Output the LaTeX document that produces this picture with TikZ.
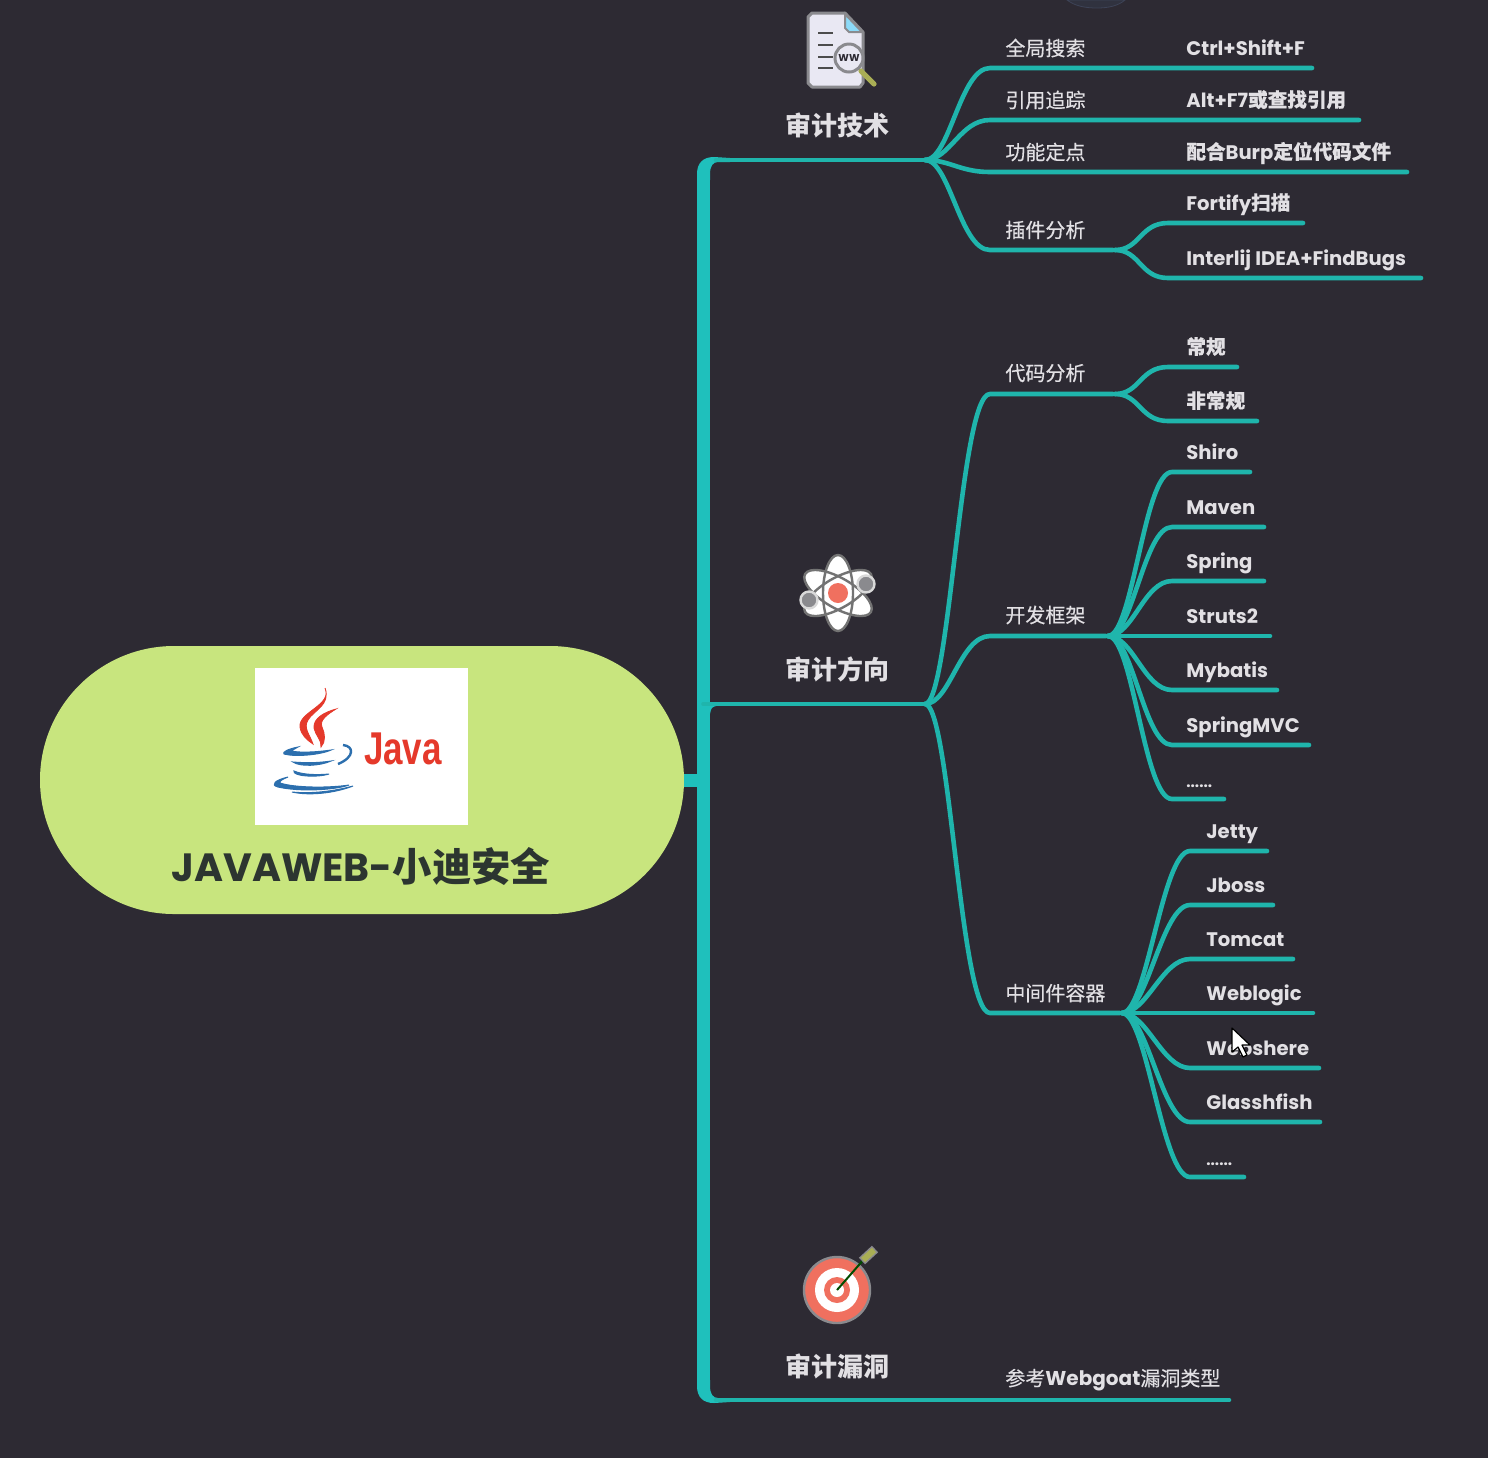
\documentclass[tikz,border=0pt]{standalone}
\usepackage{fontspec}
\setmainfont{Poppins}
\newfontfamily\cjk{Noto Sans CJK SC}
\newfontfamily\cjkmed[FakeBold=0.35]{Noto Sans CJK SC}
\newfontfamily\logofont{Liberation Sans}
\usetikzlibrary{shapes.misc}
\definecolor{bgdark}{HTML}{2D2A33}
\definecolor{slatefill}{HTML}{30323F}
\definecolor{slateedge}{HTML}{3D4357}
\definecolor{rootgreen}{HTML}{C8E57E}
\definecolor{trunkteal}{HTML}{1FC0BC}
\definecolor{lineteal}{HTML}{1FB5AC}
\definecolor{labelgrey}{HTML}{E2E0E4}
\definecolor{titledark}{HTML}{2C3530}
\definecolor{javared}{HTML}{E5392B}
\definecolor{javablue}{HTML}{2C6FAE}
\definecolor{iconred}{HTML}{F0705F}
\definecolor{icongrey}{HTML}{8A8A8E}
\definecolor{docpaper}{HTML}{E9E8F3}
\definecolor{olive}{HTML}{A9AE55}
\newcommand{\zh}[1]{{\cjkmed #1}}
\tikzset{
  x=0.5pt, y=-0.5pt,
  trunk/.style={line width=6.5pt, color=trunkteal},
  branch/.style={line width=2.3pt, color=lineteal, line cap=round, shorten >=1pt},
  topic/.style={font=\cjk\bfseries\fontsize{13}{15}\selectfont, text=labelgrey, inner sep=0pt},
  sublabel/.style={font=\cjkmed\fontsize{10}{12}\selectfont, text=labelgrey, inner sep=0pt, anchor=west},
  leaf/.style={font=\bfseries\fontsize{9.8}{12}\selectfont, text=labelgrey, inner sep=0pt, anchor=base west},
  dotsleaf/.style={font=\bfseries\fontsize{7.6}{8}\selectfont, text=labelgrey, inner sep=0pt, anchor=base west},
}
\begin{document}
\begin{tikzpicture}
\useasboundingbox (0,0) rectangle (1488,1458);
\fill[bgdark] (0,0) rectangle (1488,1458);
% stray shape at the top edge
\fill[slatefill, draw=slateedge] (1067,0) .. controls (1075,6) and (1085,8) .. (1097,8) .. controls (1108,8) and (1118,6) .. (1125,0) -- cycle;

% root
\node[rounded rectangle, fill=rootgreen, minimum width=322pt, minimum height=134pt, inner sep=0pt] (root) at (362,780) {};
\node[fill=white, minimum width=106.5pt, minimum height=78.5pt, inner sep=0pt] (logo) at (361.5,746.5) {};
\node[font=\bfseries\fontsize{19.7}{22}\selectfont, text=titledark, inner sep=0pt] (title) at (361,866) {JAVAWEB-{\cjk 小迪安全}};
\begin{scope}[javared]
\filldraw[line width=0.4pt] (325,688) .. controls (333,705) and (298,712) .. (300,727) .. controls (301,735) and (307,740) .. (313,744) .. controls (310,735) and (303,728) .. (308,720) .. controls (314,710) and (331,705) .. (325,688) -- cycle;
\filldraw[line width=0.4pt] (336,709) .. controls (325,712) and (313,718) .. (314,728) .. controls (315,735) and (322,740) .. (321,747) .. controls (326,742) and (325,733) .. (322,727) .. controls (319,720) and (328,714) .. (336,709) -- cycle;
\end{scope}
\begin{scope}[javablue, line width=0.5pt]
\filldraw (298,747) .. controls (288,749) and (282,752) .. (284,754) .. controls (295,757) and (320,755) .. (331,750) .. controls (318,752) and (300,753) .. (291,751) -- cycle;
\filldraw (293,762) .. controls (300,767) and (320,766) .. (331,761) .. controls (318,763) and (305,763) .. (293,762) -- cycle;
\filldraw (294,771) .. controls (292,776) and (316,778) .. (329,774) .. controls (318,775) and (303,775) .. (294,771) -- cycle;
\filldraw (288,777) .. controls (275,780) and (270,785) .. (278,787) .. controls (300,792) and (335,790) .. (349,785) .. controls (330,788) and (295,788) .. (280,783) .. controls (279,781) and (283,779) .. (288,777) -- cycle;
\filldraw (292,792) .. controls (310,796) and (335,793) .. (353,786) .. controls (335,791) and (312,794) .. (292,792) -- cycle;
\draw[line width=1.2pt] (343,745) .. controls (354,746) and (355,757) .. (338,764);
\end{scope}
\node[font=\logofont\bfseries\fontsize{23}{25}\selectfont, text=javared, inner sep=0pt, xscale=0.76] (javaword) at (403,749) {Java};

% trunk
\coordinate (tkroot) at (703.5,780);
\coordinate (hubtech) at (925,160);
\coordinate (hubdir) at (925,704);
\coordinate (tkdir) at (703.5,704);
\coordinate (tktop) at (716,160);
\coordinate (tkbot) at (716,1400);
\coordinate (tkvuln) at (1231,1400);
\draw[trunk] (703.5,178) -- (703.5,1382);
\draw[trunk] (root.east) -- (tkroot);
\fill[trunkteal] (697,180) -- (697,174) .. controls (697,163) and (703,157) .. (714,157) -- (730,158) -- (730,162) -- (718,162) .. controls (713,162) and (710,166) .. (710,174) -- (710,180) -- cycle;
\fill[trunkteal] (697,1380) -- (697,1386) .. controls (697,1397) and (703,1403) .. (714,1403) -- (730,1402) -- (730,1398) -- (718,1398) .. controls (713,1398) and (710,1394) .. (710,1386) -- (710,1380) -- cycle;
\draw[branch] (tktop) -- (hubtech);
\draw[branch] (tkdir) -- (hubdir);
\draw[branch] (tkbot) -- (tkvuln);
\fill[trunkteal] (710,706) -- (716,706) .. controls (712,707) and (711,708) .. (710,714) -- cycle;

% topics and their icons
\node[topic] (tech) at (837,125) {审计技术};
\node[topic] (dir) at (837,669) {审计方向};
\node[topic] (vuln) at (837,1366) {审计漏洞};
\node[sublabel] (webgoat) at (1005,1380) {参考{\rmfamily\bfseries Webgoat}漏洞类型};

% document icon
\draw[line width=1.5pt, draw=icongrey, fill=docpaper, line join=round] (808,17) -- (808,83) -- (812,87) -- (860,87) -- (863,83) -- (863,32) -- (845,13) -- (812,13) -- cycle;
\fill[cyan!45!white, draw=icongrey, line width=1pt] (845,14) -- (862,32) -- (849,32) -- (845,28) -- cycle;
\foreach \yy in {33,45,57,68} \draw[line width=1pt, draw=black!70] (818,\yy) -- (833,\yy);
\draw[line width=2.6pt, draw=olive, line cap=round] (861,71) -- (874,84);
\node[circle, draw=icongrey, line width=1.5pt, fill=docpaper, minimum size=14pt, inner sep=0pt, font=\bfseries\fontsize{5}{5}\selectfont, text=bgdark] (lens) at (849,58) {WW};

% atom icon
\foreach \rot in {0,60,120}
  \fill[white] (838,593) ellipse [x radius=7.5pt, y radius=19pt, rotate=\rot];
\foreach \rot in {0,60,120}
  \draw[line width=1.2pt, draw=black!55] (838,593) ellipse [x radius=7.5pt, y radius=19pt, rotate=\rot];
\fill[iconred] (838,593) circle [radius=5pt];
\node[circle, fill=icongrey, draw=white!85!black, line width=1.2pt, minimum size=8.5pt, inner sep=0pt] (eleca) at (866,584) {};
\node[circle, fill=icongrey, draw=white!85!black, line width=1.2pt, minimum size=8.5pt, inner sep=0pt] (elecb) at (809,600) {};

% target icon
\fill[iconred, draw=icongrey, line width=1.2pt] (837,1290) circle [radius=16.5pt];
\fill[white] (837,1290) circle [radius=11pt];
\fill[iconred] (837,1290) circle [radius=6.5pt];
\fill[white] (837,1290) circle [radius=3.5pt];
\draw[line width=1pt, draw=black!70!green] (837,1290) -- (865,1258);
\draw[line width=4.5pt, draw=icongrey] (862,1261) -- (875,1249);
\draw[line width=3pt, draw=olive] (863,1260) -- (874,1250);

% first level under each topic
\foreach \name/\yy/\xend/\txt in {
  search/68/1314/全局搜索, trace/120/1361/引用追踪, locate/172/1409/功能定点}{
  \coordinate (e\name) at (990,\yy);
  \coordinate (t\name) at (\xend,\yy);
  \node[sublabel] (\name) at (1005,\yy-20) {\txt};
  \draw[branch] (hubtech) .. controls +(25,0) and +(-30,0) .. (e\name) -- (t\name);
}
\coordinate (hubplugin) at (1115,250);
\coordinate (hubcode) at (1115,394);
\coordinate (hubframe) at (1108,636);
\coordinate (hubmid) at (1122,1013);
\coordinate (eplugin) at (990,250);
\coordinate (ecode) at (990,394);
\coordinate (eframe) at (990,636);
\coordinate (emid) at (990,1013);
\node[sublabel] (plugin) at (1005,230) {插件分析};
\node[sublabel] (code) at (1005,373) {代码分析};
\node[sublabel] (frame) at (1005,615) {开发框架};
\node[sublabel] (mid) at (1005,993) {中间件容器};
\draw[branch] (hubtech) .. controls +(25,0) and +(-30,0) .. (eplugin) -- (hubplugin);
\draw[branch] (hubdir) .. controls +(25,0) and +(-30,0) .. (ecode) -- (hubcode);
\draw[branch] (hubdir) .. controls +(25,0) and +(-30,0) .. (eframe) -- (hubframe);
\draw[branch] (hubdir) .. controls +(25,0) and +(-30,0) .. (emid) -- (hubmid);

% right side texts with no branch of their own
\node[leaf] (ctrl) at (1186,55) {Ctrl+Shift+F};
\node[leaf] (alt) at (1186,107) {Alt+F7\zh{或查找引用}};
\node[leaf] (burp) at (1186,159) {\zh{配合}Burp\zh{定位代码文件}};

% second level
\foreach \name/\yy/\xend/\txt in {
  fortify/223/1305/{Fortify\zh{扫描}}, idea/278/1423/{Interlij IDEA+FindBugs}}{
  \coordinate (e\name) at (1168,\yy);
  \coordinate (t\name) at (\xend,\yy);
  \node[leaf] (\name) at (1186,\yy-13) {\txt};
  \draw[branch] (hubplugin) .. controls +(25,0) and +(-28,0) .. (e\name) -- (t\name);
}
\foreach \name/\yy/\xend/\txt in {
  normal/367/1239/{\zh{常规}}, unusual/421/1259/{\zh{非常规}}}{
  \coordinate (e\name) at (1168,\yy);
  \coordinate (t\name) at (\xend,\yy);
  \node[leaf] (\name) at (1186,\yy-13) {\txt};
  \draw[branch] (hubcode) .. controls +(25,0) and +(-28,0) .. (e\name) -- (t\name);
}
\foreach \name/\yy/\xend/\txt in {
  shiro/472/1252/Shiro, maven/527/1266/Maven, spring/581/1266/Spring,
  struts/636/1272/Struts2, mybatis/690/1279/Mybatis, mvc/745/1311/SpringMVC}{
  \coordinate (e\name) at (1172,\yy);
  \coordinate (t\name) at (\xend,\yy);
  \node[leaf] (\name) at (1186,\yy-13) {\txt};
  \draw[branch] (hubframe) .. controls +(25,0) and +(-28,0) .. (e\name) -- (t\name);
}
\coordinate (emore) at (1172,799);
\coordinate (tmore) at (1226,799);
\node[dotsleaf] (more) at (1186,787) {......};
\draw[branch] (hubframe) .. controls +(25,0) and +(-28,0) .. (emore) -- (tmore);
\foreach \name/\yy/\xend/\txt in {
  jetty/851/1269/Jetty, jboss/905/1275/Jboss, tomcat/959/1295/Tomcat,
  weblogic/1013/1315/Weblogic, webshere/1068/1321/Webshere, glass/1122/1322/Glasshfish}{
  \coordinate (e\name) at (1190,\yy);
  \coordinate (t\name) at (\xend,\yy);
  \node[leaf] (\name) at (1206,\yy-13) {\txt};
  \draw[branch] (hubmid) .. controls +(25,0) and +(-28,0) .. (e\name) -- (t\name);
}
\coordinate (emidmore) at (1190,1177);
\coordinate (tmidmore) at (1246,1177);
\node[dotsleaf] (midmore) at (1206,1165) {......};
\draw[branch] (hubmid) .. controls +(25,0) and +(-28,0) .. (emidmore) -- (tmidmore);

% mouse pointer
\fill[white, draw=black, line width=0.6pt, line join=round] (1232,1028) -- (1232,1052) -- (1238,1047) -- (1243,1057) -- (1247,1055) -- (1242,1045) -- (1250,1045) -- cycle;
\end{tikzpicture}
\end{document}
